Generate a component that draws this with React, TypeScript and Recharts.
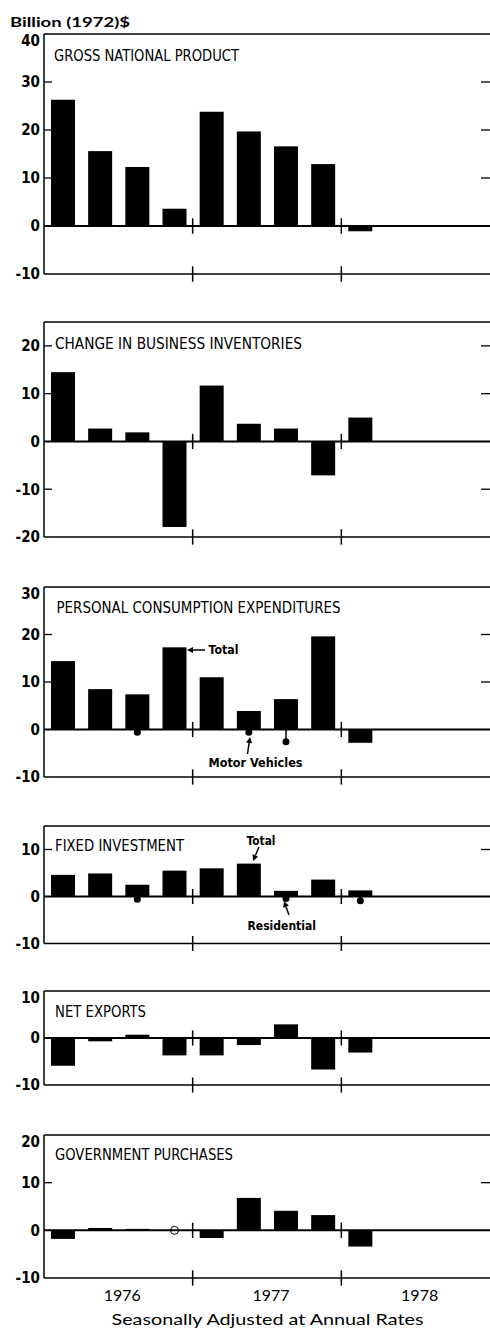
import React from 'react';
import { ComposedChart, Bar, XAxis, YAxis, ReferenceLine } from 'recharts';

// quarters 1976 Q1 .. 1978 Q4
const quarters = ['76Q1', '76Q2', '76Q3', '76Q4', '77Q1', '77Q2', '77Q3', '77Q4', '78Q1', '78Q2', '78Q3', '78Q4'];
const years = ['1976', '1976', '1976', '1976', '1977', '1977', '1977', '1977', '1978', '1978', '1978', '1978'];

// billion (1972) $, seasonally adjusted annual rates
const gnp = [26.3, 15.6, 12.3, 3.6, 23.8, 19.7, 16.6, 12.9, -1.1];
const inventories = [14.5, 2.7, 1.9, -17.9, 11.7, 3.7, 2.7, -7.1, 5.0];
const consumption = [14.4, 8.5, 7.4, 17.3, 11.0, 3.9, 6.4, 19.6, -2.8];
const motorVehicles = [null, null, -0.6, null, null, -0.6, -2.6, null, null];
const fixedInvestment = [4.6, 4.9, 2.5, 5.5, 6.0, 7.0, 1.2, 3.6, 1.3];
const residential = [null, null, -0.6, null, null, null, -0.4, null, -0.9];
const netExports = [-5.9, -0.7, 0.7, -3.7, -3.7, -1.5, 2.9, -6.7, -3.1];
const government = [-1.8, 0.5, 0.3, 0, -1.6, 6.8, 4.1, 3.2, -3.4];

const yearEnds = ['76Q4', '77Q4'];

const panels = [
  { title: 'GROSS NATIONAL PRODUCT', values: gnp, markers: null, domain: [-10, 40], ticks: [-10, 0, 10, 20, 30, 40], top: 34, bottom: 274, tx: 54, tw: 185, ty: 60.5 },
  { title: 'CHANGE IN BUSINESS INVENTORIES', values: inventories, markers: null, domain: [-20, 25], ticks: [-20, -10, 0, 10, 20], top: 322, bottom: 537, tx: 55, tw: 247, ty: 349 },
  { title: 'PERSONAL CONSUMPTION EXPENDITURES', values: consumption, markers: motorVehicles, domain: [-10, 30], ticks: [-10, 0, 10, 20, 30], top: 587, bottom: 777, tx: 56.5, tw: 284, ty: 613 },
  { title: 'FIXED INVESTMENT', values: fixedInvestment, markers: residential, domain: [-10, 15], ticks: [-10, 0, 10], top: 826, bottom: 943.5, tx: 55, tw: 129, ty: 850.5 },
  { title: 'NET EXPORTS', values: netExports, markers: null, domain: [-10, 10], ticks: [-10, 0, 10], top: 991, bottom: 1085, tx: 55, tw: 91, ty: 1016.5 },
  { title: 'GOVERNMENT PURCHASES', values: government, markers: null, domain: [-10, 20], ticks: [-10, 0, 10, 20], top: 1135, bottom: 1278, tx: 55, tw: 178, ty: 1159.5 },
];

const narrow = "'Liberation Sans Narrow', 'DejaVu Sans Condensed', 'Liberation Sans', sans-serif";
const geo = "'Lato', 'Liberation Sans', sans-serif";

const ValueTick = (props: any) => {
  const { x, y, payload, top, bottom } = props;
  const v = payload.value;
  const inner = v !== 0 && v !== top && v !== bottom;
  return (
    <g>
      <text x={x} y={y + (v === top ? 7 : 0)} dy="0.36em" textAnchor="end" fontFamily={narrow} fontWeight="bold" fontSize={15} fill="#000">
        {v}
      </text>
      {inner && <line x1={44} x2={52} y1={y} y2={y} stroke="#000" strokeWidth={1.3} />}
      {inner && <line x1={481} x2={490} y1={y} y2={y} stroke="#000" strokeWidth={1.3} />}
    </g>
  );
};

const YearTick = (props: any) => {
  const { x, y, payload } = props;
  return (
    <text x={x + 4} y={y + 21.5} textAnchor="middle" fontFamily={geo} fontSize={16} fill="#000">
      {payload.value}
    </text>
  );
};

const MainBar = (props: any) => {
  const { x, y, width, height, payload } = props;
  if (payload.v === 0) {
    return <circle cx={x + width / 2} cy={y} r={4} fill="#fff" stroke="#000" strokeWidth={1} />;
  }
  const y0 = Math.min(y, y + height);
  return <rect x={x} y={y0} width={width} height={Math.abs(height)} fill="#000" />;
};

const Stem = (props: any) => {
  const { x, y, width, height, payload } = props;
  const cx = x + width / 2;
  const a = y;
  const b = y + height;
  const dot = payload.m < 0 ? Math.max(a, b) : Math.min(a, b);
  const zero = payload.m < 0 ? Math.min(a, b) : Math.max(a, b);
  return (
    <g>
      <line x1={cx} x2={cx} y1={zero} y2={dot} stroke="#000" strokeWidth={1.5} />
      <circle cx={cx} cy={dot} r={3.5} fill="#000" />
    </g>
  );
};

const Panel = ({ cfg, last }: any) => {
  const data = quarters.map((q, i) => ({
    q,
    year: years[i],
    v: cfg.values[i] ?? null,
    m: cfg.markers ? cfg.markers[i] ?? null : null,
  }));
  const mt = 10;
  const mb = 11;
  const yearH = last ? 34 : 0;
  const h = cfg.bottom - cfg.top + mt + mb + 1 + yearH;
  const [lo, hi] = cfg.domain;
  return (
    <div style={{ position: 'absolute', left: 0, top: cfg.top - mt }}>
      <ComposedChart width={490} height={h} data={data} margin={{ top: mt, right: 0, left: 0, bottom: mb }}>
        <XAxis dataKey="q" height={1} tick={false} tickLine={false} axisLine={{ stroke: '#000', strokeWidth: 1.5 }} />
        <XAxis xAxisId="m" dataKey="q" hide height={0} />
        {last && (
          <XAxis
            xAxisId="yr"
            dataKey="year"
            allowDuplicatedCategory={false}
            height={yearH}
            axisLine={false}
            tickLine={false}
            tickSize={0}
            tickMargin={0}
            tick={<YearTick />}
          />
        )}
        <YAxis
          domain={cfg.domain}
          ticks={cfg.ticks}
          width={44}
          tickSize={0}
          tickMargin={4}
          tickLine={false}
          allowDataOverflow
          interval={0}
          axisLine={{ stroke: '#000', strokeWidth: 1.5 }}
          tick={<ValueTick top={hi} bottom={lo} />}
        />
        <ReferenceLine y={hi} stroke="#000" strokeWidth={1.3} />
        <ReferenceLine y={0} stroke="#000" strokeWidth={2} />
        {yearEnds.map((q) => (
          <ReferenceLine key={q + 'z'} segment={[{ x: q, y: -1.6 }, { x: q, y: 1.6 }]} position="end" ifOverflow="visible" stroke="#000" strokeWidth={1.5} />
        ))}
        {yearEnds.map((q) => (
          <ReferenceLine key={q + 'b'} segment={[{ x: q, y: lo - 1.6 }, { x: q, y: lo + 1.6 }]} position="end" ifOverflow="visible" stroke="#000" strokeWidth={1.5} />
        ))}
        <Bar dataKey="v" barSize={24} fill="#000" shape={<MainBar />} isAnimationActive={false} />
        {cfg.markers && <Bar xAxisId="m" dataKey="m" barSize={8} fill="#000" shape={<Stem />} isAnimationActive={false} />}
      </ComposedChart>
    </div>
  );
};

const Arrow = ({ x1, y1, x2, y2 }: any) => {
  const ang = Math.atan2(y2 - y1, x2 - x1);
  const len = 6;
  const w = 3;
  const bx = x2 - len * Math.cos(ang);
  const by = y2 - len * Math.sin(ang);
  const px = -Math.sin(ang) * w;
  const py = Math.cos(ang) * w;
  return (
    <g>
      <line x1={x1} y1={y1} x2={bx} y2={by} stroke="#000" strokeWidth={1.5} />
      <polygon points={`${x2},${y2} ${bx + px},${by + py} ${bx - px},${by - py}`} fill="#000" />
    </g>
  );
};

export default function App() {
  return (
    <div style={{ position: 'absolute', left: 0, top: 0, width: 490, height: 1328, background: '#fff', overflow: 'hidden' }}>
      {panels.map((p, i) => (
        <Panel key={p.title} cfg={p} last={i === panels.length - 1} />
      ))}
      <svg width={490} height={1328} style={{ position: 'absolute', left: 0, top: 0, pointerEvents: 'none' }}>
        <text x={10} y={27} fontFamily={geo} fontWeight="bold" fontSize={14} textLength={120} lengthAdjust="spacingAndGlyphs">
          Billion (1972)$
        </text>
        {panels.map((p) => (
          <text key={p.title} x={p.tx} y={p.ty} fontFamily={narrow} fontSize={15} textLength={p.tw} lengthAdjust="spacingAndGlyphs">
            {p.title}
          </text>
        ))}
        {/* PCE notes */}
        <Arrow x1={205} y1={650} x2={187} y2={650} />
        <text x={208.5} y={654} fontFamily={narrow} fontWeight="bold" fontSize={13} textLength={30} lengthAdjust="spacingAndGlyphs">Total</text>
        <Arrow x1={247.5} y1={754} x2={250} y2={737} />
        <text x={208.5} y={766.5} fontFamily={narrow} fontWeight="bold" fontSize={13} textLength={94} lengthAdjust="spacingAndGlyphs">Motor Vehicles</text>
        {/* fixed investment notes */}
        <text x={246.5} y={845} fontFamily={narrow} fontWeight="bold" fontSize={13} textLength={29} lengthAdjust="spacingAndGlyphs">Total</text>
        <Arrow x1={259} y1={847} x2={253} y2={861} />
        <Arrow x1={289} y1={915} x2={284} y2={901} />
        <text x={247.5} y={929.5} fontFamily={narrow} fontWeight="bold" fontSize={13} textLength={68.5} lengthAdjust="spacingAndGlyphs">Residential</text>
        <text x={111.5} y={1325} fontFamily={geo} fontSize={16} textLength={312} lengthAdjust="spacingAndGlyphs">
          Seasonally Adjusted at Annual Rates
        </text>
      </svg>
    </div>
  );
}
